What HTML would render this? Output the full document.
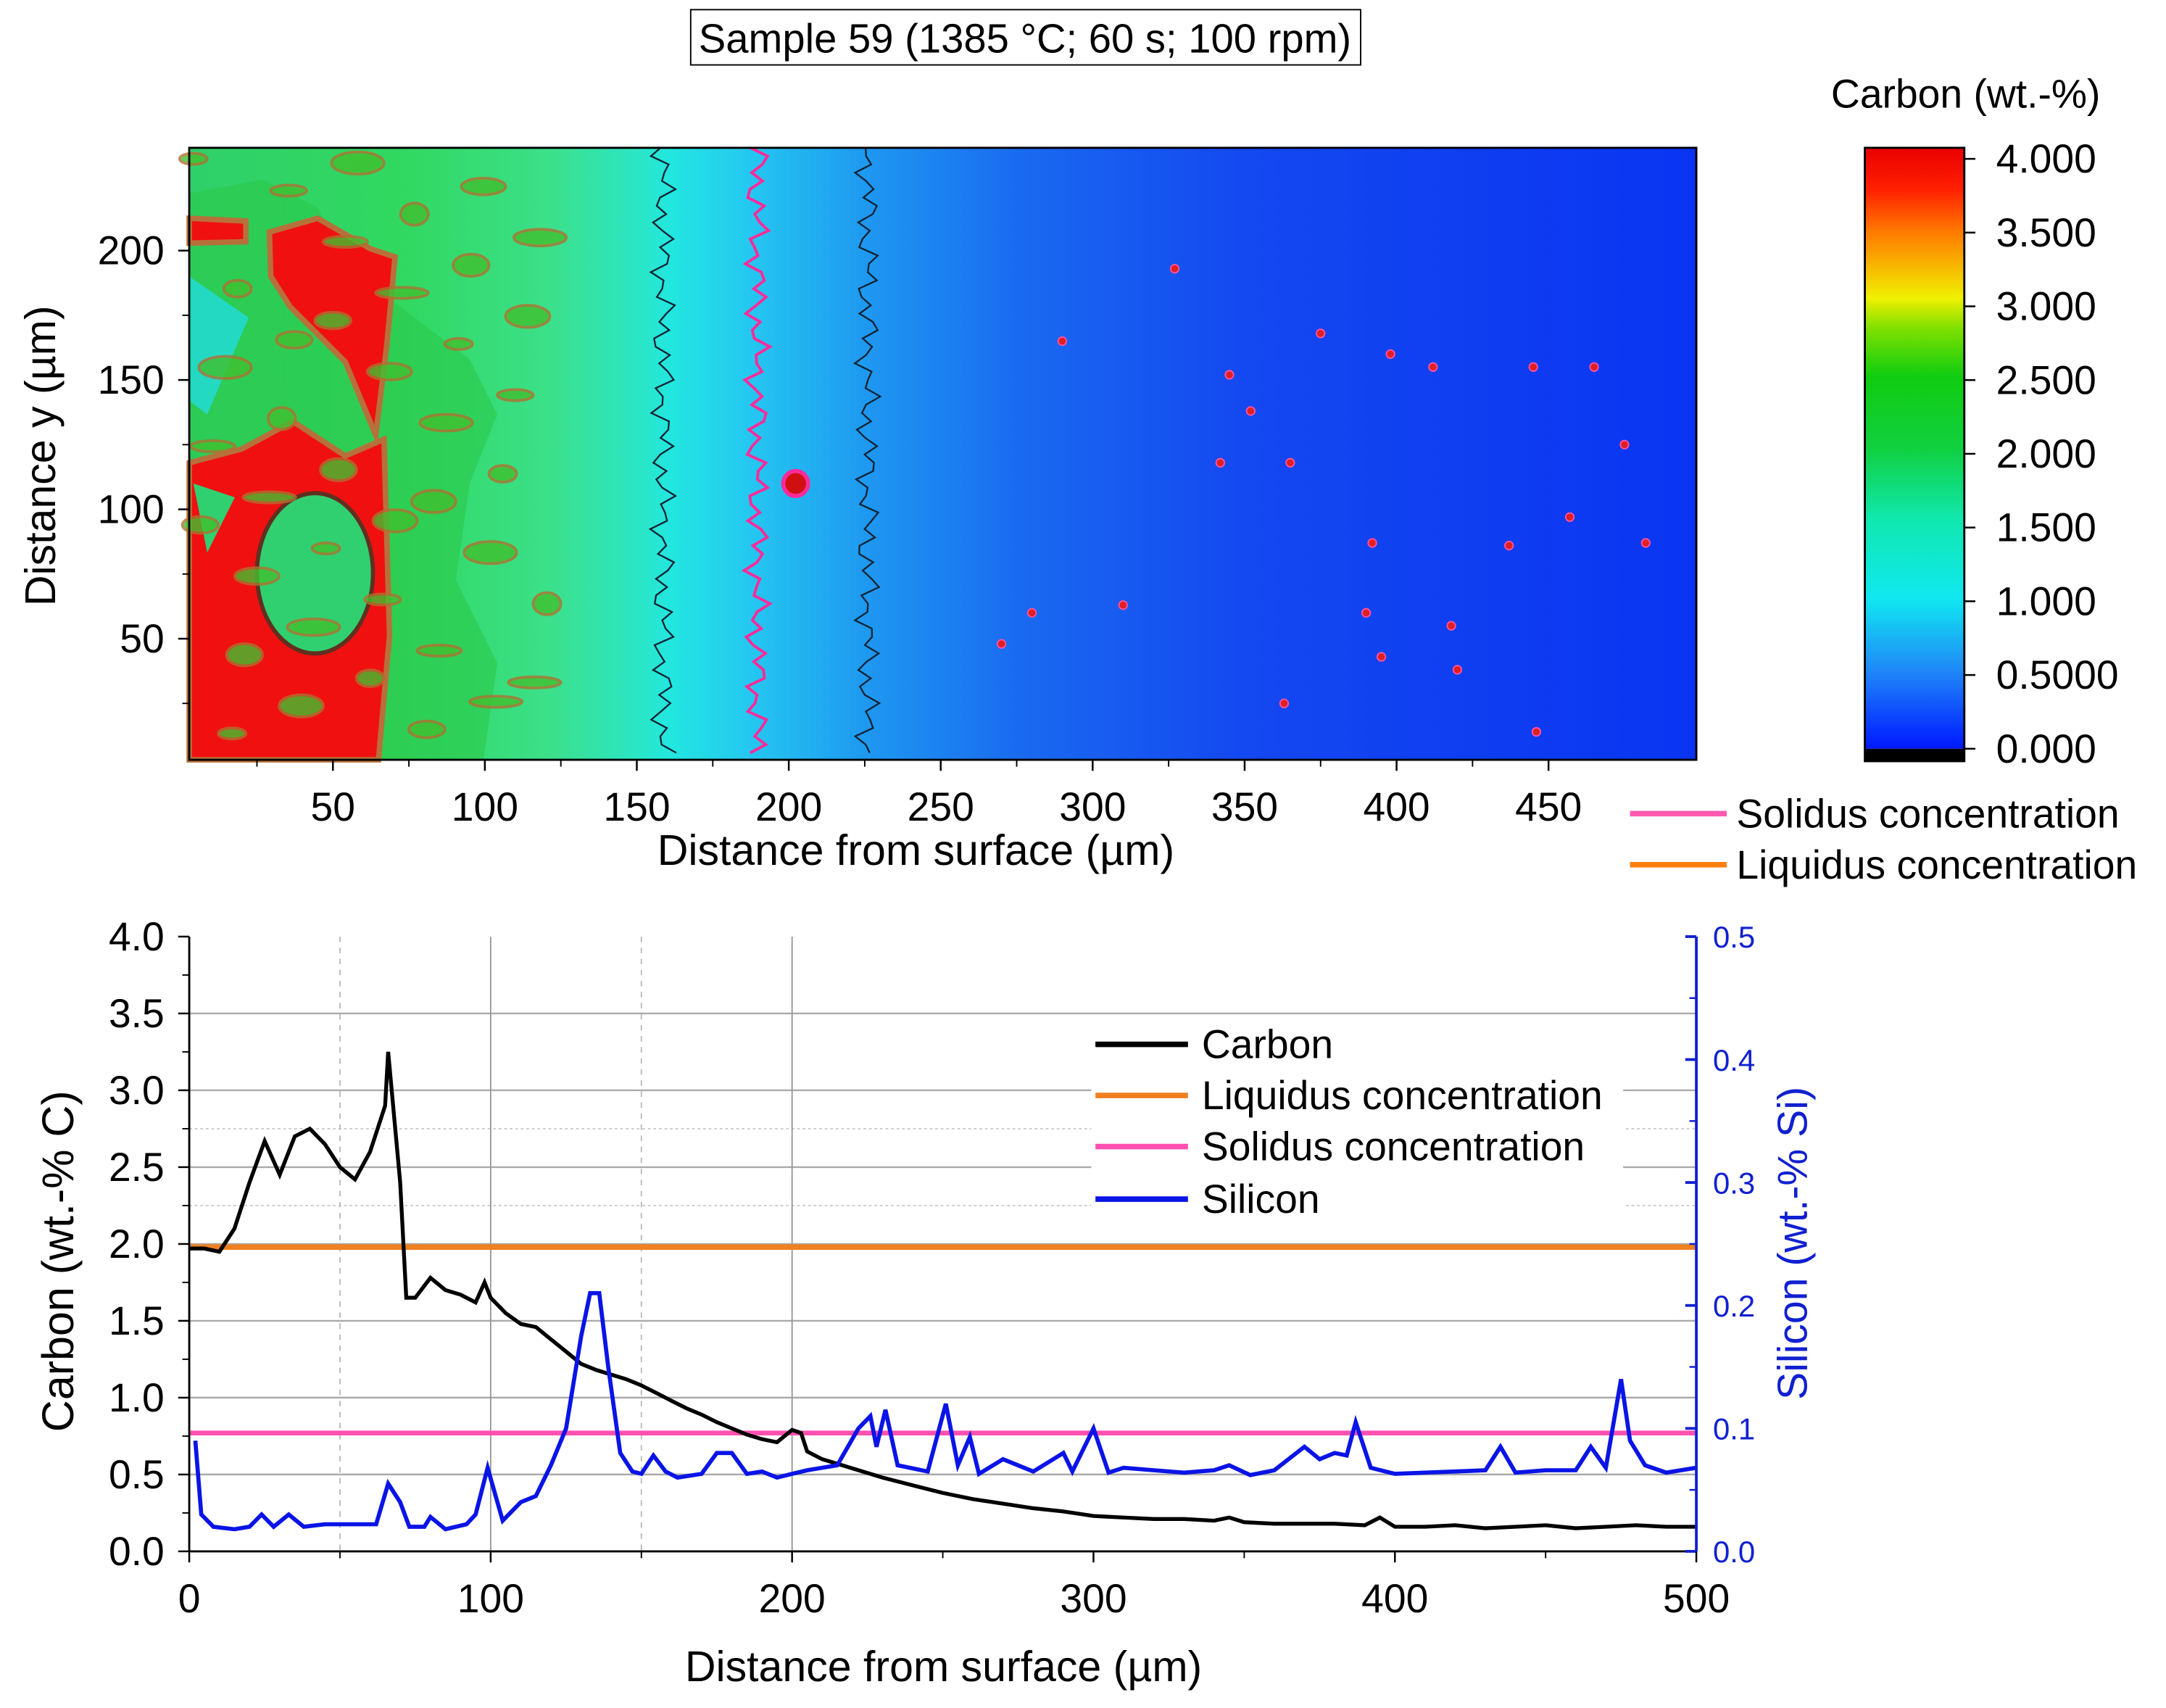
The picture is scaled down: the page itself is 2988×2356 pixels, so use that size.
<!DOCTYPE html>
<html><head><meta charset="utf-8"><style>
html,body{margin:0;padding:0;background:#fff}
svg{display:block}
text{font-family:"Liberation Sans",sans-serif}
</style></head><body>
<svg id="fig" width="2988" height="2356" viewBox="0 0 1568 1236.4" preserveAspectRatio="none" xmlns="http://www.w3.org/2000/svg">
<defs>
<linearGradient id="mapg" x1="0" x2="1" y1="0" y2="0">
<stop offset="0" stop-color="#2fd06a"/><stop offset="0.14" stop-color="#30d860"/><stop offset="0.24" stop-color="#3ce08a"/>
<stop offset="0.3" stop-color="#2ae6c8"/><stop offset="0.32" stop-color="#22e6e0"/><stop offset="0.37" stop-color="#25c8f0"/>
<stop offset="0.45" stop-color="#1e98f0"/><stop offset="0.55" stop-color="#1a6af0"/><stop offset="0.7" stop-color="#1448f0"/><stop offset="1" stop-color="#0a34f2"/>
</linearGradient>
<linearGradient id="cbg" x1="0" x2="0" y1="0" y2="1">
<stop offset="0" stop-color="#e80000"/><stop offset="0.07" stop-color="#ff2000"/><stop offset="0.14" stop-color="#ff7a00"/>
<stop offset="0.25" stop-color="#f0f000"/><stop offset="0.3" stop-color="#80e000"/><stop offset="0.38" stop-color="#10cc10"/>
<stop offset="0.5" stop-color="#10d040"/><stop offset="0.62" stop-color="#10e8b0"/><stop offset="0.75" stop-color="#10e8f0"/>
<stop offset="0.87" stop-color="#2088f8"/><stop offset="1" stop-color="#0018ff"/>
</linearGradient>
</defs>
<rect x="500" y="7" width="485" height="40" fill="#fff" stroke="#000" stroke-width="1"/>
<text x="742" y="38" font-size="29.5" text-anchor="middle">Sample 59 (1385 °C; 60 s; 100 rpm)</text>
<g id="map"></g>
<g id="cbar"></g>
<g id="top-axes"></g>
<g id="bottom"></g>
</svg>
<script>
const NS="http://www.w3.org/2000/svg";
function mk(p,tag,attrs,txt){const e=document.createElementNS(NS,tag);for(const k in attrs)e.setAttribute(k,attrs[k]);if(txt!==undefined)e.textContent=txt;p.appendChild(e);return e;}

// ---- data ----
const mapXTicks=[50,100,150,200,250,300,350,400,450];
const mapYTicks=[50,100,150,200];
const cbarTicks=["4.000","3.500","3.000","2.500","2.000","1.500","1.000","0.5000","0.000"];
const cbarValues=[4,3.5,3,2.5,2,1.5,1,0.5,0];
const profXTicks=[0,100,200,300,400,500];
const carbonTicks=[0,0.5,1,1.5,2,2.5,3,3.5,4];
const siliconTicks=[0,0.1,0.2,0.3,0.4,0.5];
const liquidus=1.98;
const solidus=0.77;
const carbonX=[0,5,10,15,20,25,30,35,40,45,50,55,60,65,66,70,72,75,80,85,90,95,98,100,105,110,115,120,125,130,135,140,145,150,155,160,165,170,175,180,185,190,195,200,203,205,210,220,230,240,250,260,270,280,290,300,310,320,330,340,345,350,360,370,380,390,395,400,410,420,430,440,450,460,470,480,490,500];
const carbonY=[1.97,1.97,1.95,2.1,2.4,2.67,2.45,2.7,2.75,2.65,2.5,2.42,2.6,2.9,3.25,2.4,1.65,1.65,1.78,1.7,1.67,1.62,1.75,1.65,1.55,1.48,1.46,1.38,1.3,1.22,1.18,1.15,1.12,1.08,1.03,0.98,0.93,0.89,0.84,0.8,0.76,0.73,0.71,0.79,0.77,0.65,0.6,0.54,0.48,0.43,0.38,0.34,0.31,0.28,0.26,0.23,0.22,0.21,0.21,0.2,0.22,0.19,0.18,0.18,0.18,0.17,0.22,0.16,0.16,0.17,0.15,0.16,0.17,0.15,0.16,0.17,0.16,0.16];
const siliconX=[2,4,8,15,20,24,28,33,38,45,55,62,66,70,73,78,80,85,92,95,99,104,110,115,120,125,130,133,136,139,143,147,150,154,158,162,170,175,180,185,190,195,200,205,215,222,226,228,231,235,245,251,255,259,262,270,280,290,293,300,305,310,320,330,340,345,352,360,370,375,380,384,387,392,400,410,420,430,435,440,450,460,465,470,475,478,483,490,500];
const siliconY=[0.09,0.03,0.02,0.018,0.02,0.03,0.02,0.03,0.02,0.022,0.022,0.022,0.055,0.04,0.02,0.02,0.028,0.018,0.022,0.03,0.068,0.025,0.04,0.045,0.07,0.1,0.175,0.21,0.21,0.15,0.08,0.065,0.063,0.078,0.065,0.06,0.063,0.08,0.08,0.063,0.065,0.06,0.063,0.066,0.07,0.1,0.11,0.085,0.115,0.07,0.065,0.12,0.07,0.093,0.063,0.075,0.065,0.08,0.065,0.1,0.064,0.068,0.066,0.064,0.066,0.07,0.062,0.066,0.085,0.075,0.08,0.078,0.105,0.068,0.063,0.064,0.065,0.066,0.085,0.064,0.066,0.066,0.085,0.068,0.14,0.09,0.07,0.064,0.068];
const spotX=[270,290,327,345,352,365,375,395,398,412,420,437,445,465,475,482,392,310,280,363,418,446,457,390,342];
const spotY=[48,165,193,152,138,118,168,43,160,155,38,86,155,155,125,87,87,63,60,25,55,14,97,60,118];

// ---- top map ----
const M={x0:137,x1:1228,y0:107,y1:550};
const mx=v=>131+v*2.2, my=v=>556-v*1.873;
const map=document.getElementById('map');
const bg=mk(map,'rect',{x:M.x0,y:M.y0,width:M.x1-M.x0,height:M.y1-M.y0,fill:'url(#mapg)'});


mk(map,'path',{d:"M137,140 L190,130 L230,150 L250,190 L300,230 L340,260 L360,300 L340,350 L330,420 L360,480 L350,550 L137,550 Z",fill:"#2cc84a",opacity:0.6});
mk(map,'path',{d:"M137,200 L180,230 L150,300 L137,290 Z M150,460 L200,470 L160,520 Z",fill:"#22dcdc",opacity:0.8});
const reds=["M195,168 L230,158 L268,180 L286,186 L280,250 L272,315 L250,262 L210,222 L196,200 Z",
"M137,335 L175,325 L212,305 L250,330 L278,318 L282,460 L274,550 L137,550 Z",
"M137,158 L178,160 L178,175 L137,176 Z"];
reds.forEach((d,i)=>{const p=mk(map,'path',{d:d,fill:"#f01010",stroke:"#b8703a","stroke-width":4});});
mk(map,'ellipse',{cx:228,cy:415,rx:42,ry:58,fill:"#30d070",stroke:"#603020","stroke-width":3});
mk(map,'path',{d:"M140,350 L170,360 L150,400 Z",fill:"#30d070"});
function wavy(xc,amp,seed,col,w){let d="";for(let y=M.y0;y<=M.y1;y+=6){const x=xc+amp*Math.sin(y*0.37+seed)+amp*0.6*Math.sin(y*0.91+seed*2);d+=(y===M.y0?"M":"L")+x.toFixed(1)+","+y;}return mk(map,'path',{d:d,fill:"none",stroke:col,"stroke-width":w});}
wavy(480,6,1,"#123","1.2");
wavy(628,6,2,"#123","1.2");
const sol=wavy(548,6,3,"#ff2a9a","2");
mk(map,'circle',{cx:576,cy:350,r:9,fill:"#d01010",stroke:"#ff2a9a","stroke-width":3});
for(let i=0;i<40;i++){const x=140+((i*73)%260),y=115+((i*131)%430);mk(map,'ellipse',{cx:x,cy:y,rx:10+(i%4)*3,ry:4+(i%3)*2,fill:"#40c030",stroke:"#b07030","stroke-width":2,opacity:0.8});}
spotX.forEach((v,i)=>{const c=mk(map,'circle',{cx:mx(v),cy:my(spotY[i]),r:3,fill:"#e02020",stroke:"#ff50a0","stroke-width":1});});
mk(map,'rect',{x:M.x0,y:M.y0,width:M.x1-M.x0,height:M.y1-M.y0,fill:"none",stroke:"#000","stroke-width":1.5});

// top axes
const FS=29;
const ta=document.getElementById('top-axes');
mapXTicks.forEach(v=>{mk(ta,'line',{x1:mx(v),x2:mx(v),y1:M.y1,y2:M.y1+8,stroke:"#000","stroke-width":1.3});
 const t=mk(ta,'text',{x:mx(v),y:594,"font-size":FS,"text-anchor":"middle"},v);
 mk(ta,'line',{x1:mx(v-25),x2:mx(v-25),y1:M.y1,y2:M.y1+5,stroke:"#000","stroke-width":1});});
mapYTicks.forEach(v=>{mk(ta,'line',{x1:M.x0-8,x2:M.x0,y1:my(v),y2:my(v),stroke:"#000","stroke-width":1.3});
 mk(ta,'line',{x1:M.x0-5,x2:M.x0,y1:my(v-25),y2:my(v-25),stroke:"#000","stroke-width":1});
 const t=mk(ta,'text',{x:119,y:my(v)+10,"font-size":FS,"text-anchor":"end"},v);});
let t=mk(ta,'text',{x:663,y:626,"font-size":31,"text-anchor":"middle"},"Distance from surface (µm)");
t=mk(ta,'text',{x:0,y:0,"font-size":31,"text-anchor":"middle",transform:"translate(40,330) rotate(-90)"},"Distance y (µm)");
mk(ta,'line',{x1:1180,x2:1250,y1:589,y2:589,stroke:"#ff5ab0","stroke-width":4});
t=mk(ta,'text',{x:1257,y:599,"font-size":FS},"Solidus concentration");
mk(ta,'line',{x1:1180,x2:1250,y1:626,y2:626,stroke:"#ff8010","stroke-width":4});
t=mk(ta,'text',{x:1257,y:636,"font-size":FS},"Liquidus concentration");

// colorbar
const cb=document.getElementById('cbar');
const cy=v=>542-(v/4)*427;
mk(cb,'rect',{x:1350,y:107,width:72,height:435,fill:"url(#cbg)"});
mk(cb,'rect',{x:1350,y:542,width:72,height:9,fill:"#000"});
mk(cb,'rect',{x:1350,y:107,width:72,height:444,fill:"none",stroke:"#000","stroke-width":1.5});
cbarValues.forEach((v,i)=>{mk(cb,'line',{x1:1422,x2:1430,y1:cy(v),y2:cy(v),stroke:"#000","stroke-width":1.3});
 const e=mk(cb,'text',{x:1445,y:cy(v)+10,"font-size":FS},cbarTicks[i]);});
t=mk(cb,'text',{x:1423,y:78,"font-size":FS,"text-anchor":"middle"},"Carbon (wt.-%)");

// ---- bottom chart ----
const B={x0:137,x1:1228,y0:678,y1:1123};
const bx=v=>B.x0+v*(B.x1-B.x0)/500, by=v=>B.y1-v*(B.y1-B.y0)/4, sy=v=>B.y1-v*(B.y1-B.y0)/0.5;
const bt=document.getElementById('bottom');
carbonTicks.forEach(v=>{if(v>0&&v<4)mk(bt,'line',{x1:B.x0,x2:B.x1,y1:by(v),y2:by(v),stroke:"#aaa","stroke-width":1.3});});
[2.75,2.25].forEach(v=>mk(bt,'line',{x1:B.x0,x2:B.x1,y1:by(v),y2:by(v),stroke:"#ccc","stroke-width":1,"stroke-dasharray":"2,2"}));
[100,200].forEach(v=>mk(bt,'line',{x1:bx(v),x2:bx(v),y1:B.y0,y2:B.y1,stroke:"#999","stroke-width":1}));
[50,150].forEach(v=>mk(bt,'line',{x1:bx(v),x2:bx(v),y1:B.y0,y2:B.y1,stroke:"#bbb","stroke-width":1,"stroke-dasharray":"4,4"}));
let l=mk(bt,'line',{x1:B.x0,x2:B.x1,y1:by(liquidus),y2:by(liquidus),stroke:"#f08020","stroke-width":4});
l=mk(bt,'line',{x1:B.x0,x2:B.x1,y1:by(solidus),y2:by(solidus),stroke:"#ff50b0","stroke-width":3.5});
let d=carbonX.map((v,i)=>(i?"L":"M")+bx(v).toFixed(1)+","+by(carbonY[i]).toFixed(1)).join("");
l=mk(bt,'path',{d:d,fill:"none",stroke:"#000","stroke-width":2.8});
d=siliconX.map((v,i)=>(i?"L":"M")+bx(v).toFixed(1)+","+sy(siliconY[i]).toFixed(1)).join("");
l=mk(bt,'path',{d:d,fill:"none",stroke:"#0a14e6","stroke-width":3});
mk(bt,'line',{x1:B.x0,x2:B.x0,y1:B.y0,y2:B.y1,stroke:"#000","stroke-width":1.5});
mk(bt,'line',{x1:B.x0,x2:B.x1,y1:B.y1,y2:B.y1,stroke:"#000","stroke-width":1.5});
mk(bt,'line',{x1:B.x1,x2:B.x1,y1:B.y0,y2:B.y1,stroke:"#1020d0","stroke-width":2});
carbonTicks.forEach(v=>{mk(bt,'line',{x1:B.x0-8,x2:B.x0,y1:by(v),y2:by(v),stroke:"#000","stroke-width":1.3});
 if(v<4)mk(bt,'line',{x1:B.x0-5,x2:B.x0,y1:by(v+0.25),y2:by(v+0.25),stroke:"#000","stroke-width":1});
 const e=mk(bt,'text',{x:119,y:by(v)+10,"font-size":FS,"text-anchor":"end"},v.toFixed(1));});
siliconTicks.forEach(v=>{mk(bt,'line',{x1:B.x1,x2:B.x1-8,y1:sy(v),y2:sy(v),stroke:"#1020d0","stroke-width":2});
 if(v<0.5)mk(bt,'line',{x1:B.x1,x2:B.x1-5,y1:sy(v+0.05),y2:sy(v+0.05),stroke:"#1020d0","stroke-width":1.3});
 const e=mk(bt,'text',{x:1240,y:sy(v)+8,"font-size":22,fill:"#1020d0"},v.toFixed(1));});
profXTicks.forEach(v=>{mk(bt,'line',{x1:bx(v),x2:bx(v),y1:B.y1,y2:B.y1+8,stroke:"#000","stroke-width":1.3});
 if(v<500)mk(bt,'line',{x1:bx(v+50),x2:bx(v+50),y1:B.y1,y2:B.y1+5,stroke:"#000","stroke-width":1});
 const e=mk(bt,'text',{x:bx(v),y:1167,"font-size":FS,"text-anchor":"middle"},v);});
t=mk(bt,'text',{x:683,y:1217,"font-size":31,"text-anchor":"middle"},"Distance from surface (µm)");
t=mk(bt,'text',{x:0,y:0,"font-size":32,"text-anchor":"middle",transform:"translate(53,913) rotate(-90)"},"Carbon (wt.-% C)");
t=mk(bt,'text',{x:0,y:0,"font-size":30,"text-anchor":"middle",fill:"#1020d0",transform:"translate(1308,900) rotate(-90)"},"Silicon (wt.-% Si)");
const legNames=["Carbon","Liquidus concentration","Solidus concentration","Silicon"];
const legCols=["#000","#f08020","#ff50b0","#0a14e6"];
const legY=[756,793,830,868];
legNames.forEach((n,i)=>{mk(bt,'rect',{x:790,y:legY[i]-17,width:385,height:34,fill:"#fff"});});
legNames.forEach((n,i)=>{mk(bt,'line',{x1:793,x2:860,y1:legY[i],y2:legY[i],stroke:legCols[i],"stroke-width":4});
 const e=mk(bt,'text',{x:870,y:legY[i]+10,"font-size":FS},n);});
</script>
</body></html>
